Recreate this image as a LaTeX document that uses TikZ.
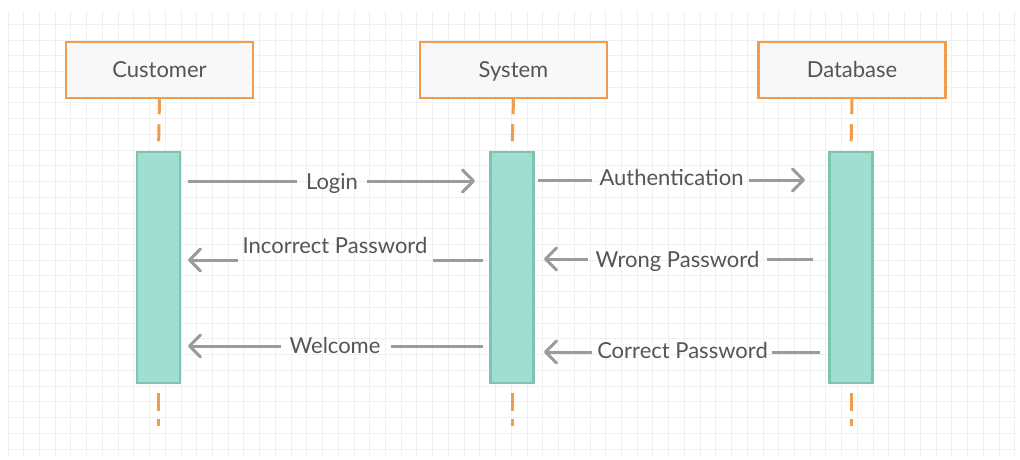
\documentclass[tikz,border=0pt]{standalone}
\usepackage{fontspec}
\setmainfont{Lato}
\usetikzlibrary{arrows.meta}

\definecolor{gridc}{RGB}{240,240,240}
\definecolor{orangec}{RGB}{240,156,76}
\definecolor{boxfill}{RGB}{248,248,248}
\definecolor{barfill}{RGB}{160,222,208}
\definecolor{barline}{RGB}{122,198,178}
\definecolor{msgc}{RGB}{155,155,155}
\definecolor{txtc}{RGB}{85,85,85}

\tikzset{
  actor/.style={draw=orangec, fill=boxfill, line width=2.5pt,
    minimum width=187pt, minimum height=56pt, inner sep=0pt,
    text=txtc, font=\fontsize{22}{22}\selectfont,
    text height=15.8pt, text depth=0pt},
  actbar/.style={draw=barline, fill=barfill, line width=2.5pt,
    minimum width=43pt, minimum height=231pt, inner sep=0pt},
  lifeline/.style={draw=orangec, line width=3pt},
  msgtext/.style={anchor=base, inner sep=0pt, text=txtc,
    font=\fontsize{22}{22}\selectfont},
  msg/.style={draw=msgc, line width=3pt},
  msgarrow/.style={msg, -{Straight Barb[length=11pt,width=22pt,line cap=round,line join=round]}}
}

\begin{document}
\begin{tikzpicture}[x=1pt,y=-1pt]
\useasboundingbox (0,0) rectangle (1020,459);
\fill[white] (0,0) rectangle (1020,459);

% background grid
\foreach \i in {0,...,64}
  \draw[gridc, line width=1pt] ({8+15.73*\i},11) -- ({8+15.73*\i},456);
\foreach \j in {0,...,27}
  \draw[gridc, line width=1pt] (8,{449-15.73*\j}) -- (1017,{449-15.73*\j});

% participants
\node[actor] (cust) at (159.5,70) {Customer};
\node[actor] (sys)  at (513.5,70) {System};
\node[actor] (db)   at (852,70)   {Database};

% activation bars
\node[actbar] (ca) at (158.5,267.5) {};
\node[actbar] (sa) at (512,267.5)   {};
\node[actbar] (da) at (851,267.5)   {};

% lifelines
\coordinate (cend) at (158.5,426);
\coordinate (send) at (512,426);
\coordinate (dend) at (851,426);
\foreach \p/\b/\e in {cust/ca/cend, sys/sa/send, db/da/dend}{
  \draw[lifeline, dash pattern=on 15pt off 10pt on 17pt off 20pt] (\p.south) -- (\b.north);
  \draw[lifeline, dash pattern=on 0pt off 9pt on 18pt off 8pt on 10pt] (\b.south) -- (\e);
}

% Login
\node[msgtext] (m1) at (332,189.4) {Login};
\coordinate (m1a) at (188,181);
\coordinate (m1b) at (475,181);
\draw[msg] (m1a) -- ([xshift=-9pt]m1.west |- m1a);
\draw[msgarrow] ([xshift=9pt]m1.east |- m1b) -- (m1b);

% Authentication
\node[msgtext] (m2) at (671.5,185.4) {Authentication};
\coordinate (m2a) at (538,180);
\coordinate (m2b) at (805,180);
\draw[msg] (m2a) -- ([xshift=-7pt]m2.west |- m2a);
\draw[msgarrow] ([xshift=5pt]m2.east |- m2b) -- (m2b);

% Incorrect Password
\node[msgtext] (m3) at (335,253) {Incorrect Password};
\coordinate (m3a) at (483,260);
\coordinate (m3b) at (188,260);
\draw[msg] (m3a) -- ([xshift=5pt]m3.east |- m3a);
\draw[msgarrow] ([xshift=-5pt]m3.west |- m3b) -- (m3b);

% Wrong Password
\node[msgtext] (m4) at (677.5,267.4) {Wrong Password};
\coordinate (m4a) at (813,259);
\coordinate (m4b) at (544,259);
\draw[msg] (m4a) -- ([xshift=8pt]m4.east |- m4a);
\draw[msgarrow] ([xshift=-8pt]m4.west |- m4b) -- (m4b);

% Welcome
\node[msgtext] (m5) at (335,353.4) {Welcome};
\coordinate (m5a) at (483,346);
\coordinate (m5b) at (188,346);
\draw[msg] (m5a) -- ([xshift=10pt]m5.east |- m5a);
\draw[msgarrow] ([xshift=-8pt]m5.west |- m5b) -- (m5b);

% Correct Password
\node[msgtext] (m6) at (682.5,358.4) {Correct Password};
\coordinate (m6a) at (820,352);
\coordinate (m6b) at (544,352);
\draw[msg] (m6a) -- ([xshift=4pt]m6.east |- m6a);
\draw[msgarrow] ([xshift=-5pt]m6.west |- m6b) -- (m6b);
\end{tikzpicture}
\end{document}
